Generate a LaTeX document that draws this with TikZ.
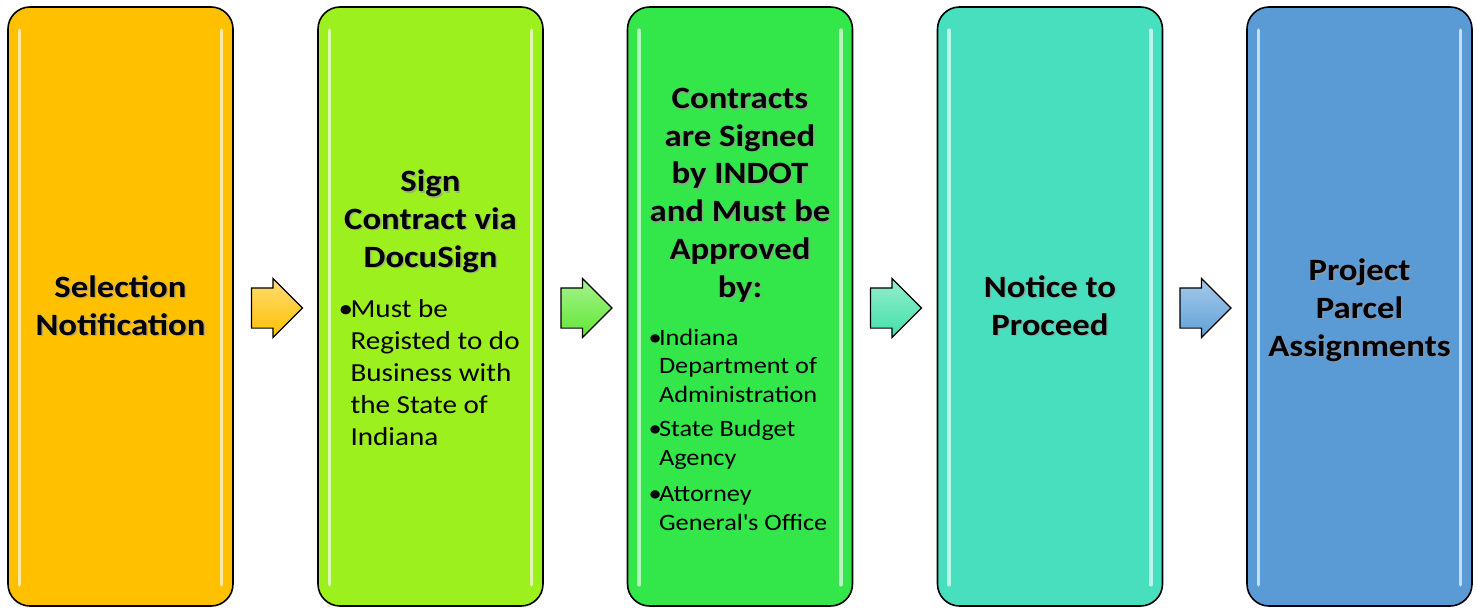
\documentclass[tikz,border=0pt]{standalone}
\usepackage{fontspec}
\setmainfont{Carlito}[FakeStretch=1.12]
\usetikzlibrary{shapes.arrows}

\definecolor{selcol}{HTML}{FFC000}
\definecolor{sgncol}{HTML}{9BF01E}
\definecolor{aprcol}{HTML}{33E64A}
\definecolor{ntpcol}{HTML}{48DFBF}
\definecolor{ppacol}{HTML}{5B9BD5}
\definecolor{arrcola}{HTML}{FFC000}
\definecolor{arrcolb}{HTML}{5FE832}
\definecolor{arrcolc}{HTML}{40E0A8}
\definecolor{arrcold}{HTML}{5FA0D8}

\tikzset{
  stepbox/.style={draw=black, line width=1.6pt, rounded corners=22pt,
    minimum width=225pt, minimum height=599pt, inner sep=0pt},
  steptitle/.style={font=\fontsize{31}{37.7}\selectfont\bfseries, align=center, anchor=base},
  titleshadow/.style={steptitle, text=black!40, opacity=0.7, xshift=1.5pt, yshift=-1.5pt},
  stepbody/.style={font=\fontsize{26}{32}\selectfont, align=left, anchor=base west},
  smallbody/.style={stepbody, font=\fontsize{23.5}{28.5}\selectfont},
  gloss/.style={line width=3.5pt, line cap=round},
  flowarrow/.style={single arrow, draw=black, line width=1.2pt, inner xsep=0pt,
    inner ysep=19.5pt, minimum height=51pt, single arrow head extend=9.5pt,
    single arrow head indent=0pt},
}

\begin{document}
\begin{tikzpicture}[x=1pt,y=-1pt]
  \useasboundingbox (0,0) rectangle (1477,608);

  % the five steps
  \node[stepbox,fill=selcol] (sel) at (120.5,306.5) {};
  \node[stepbox,fill=sgncol] (sgn) at (430.5,306.5) {};
  \node[stepbox,fill=aprcol] (apr) at (740,306.5) {};
  \node[stepbox,fill=ntpcol] (ntp) at (1050,306.5) {};
  \node[stepbox,fill=ppacol] (ppa) at (1359.5,306.5) {};

  % light edges
  \foreach \n/\c in {sel/selcol,sgn/sgncol,apr/aprcol,ntp/ntpcol,ppa/ppacol}{
    \draw[gloss,\c!35!white] ([xshift=12.5pt,yshift=-24pt]\n.north west) -- ([xshift=12.5pt,yshift=22pt]\n.south west);
    \draw[gloss,\c!35!white] ([xshift=-12.5pt,yshift=-24pt]\n.north east) -- ([xshift=-12.5pt,yshift=22pt]\n.south east);
  }

  % arrows between the steps
  \node[flowarrow,top color=arrcola!55!white,bottom color=arrcola] (a1) at (267,308) {};
  \node[flowarrow,top color=arrcolb!55!white,bottom color=arrcolb] (a2) at (576.5,308) {};
  \node[flowarrow,top color=arrcolc!55!white,bottom color=arrcolc] (a3) at (886,308) {};
  \node[flowarrow,top color=arrcold!55!white,bottom color=arrcold] (a4) at (1195.5,308) {};

  % title shadows
  \node[titleshadow] (selsh) at (120.5,335) {Selection\\Notification};
  \node[titleshadow] (sgnsh) at (430.5,267) {Sign\\Contract via\\DocuSign};
  \node[titleshadow] (aprsh) at (740,297) {Contracts\\are Signed\\by INDOT\\and Must be\\Approved\\by:};
  \node[titleshadow] (ntpsh) at (1050,335) {Notice to\\Proceed};
  \node[titleshadow] (ppash) at (1359.5,356) {Project\\Parcel\\Assignments};

  % texts
  \node[steptitle] (seltxt) at (120.5,335) {Selection\\Notification};
  \node[steptitle] (sgntxt) at (430.5,267) {Sign\\Contract via\\DocuSign};
  \node[stepbody] (sgnlst) at (335,445) {\makebox[12pt][l]{•}Must be\\
    \hspace*{12pt}Registed to do\\
    \hspace*{12pt}Business with\\
    \hspace*{12pt}the State of\\
    \hspace*{12pt}Indiana};
  \node[steptitle] (aprtxt) at (740,297) {Contracts\\are Signed\\by INDOT\\and Must be\\Approved\\by:};
  \node[smallbody] (aprl1) at (645,402) {\makebox[10.5pt][l]{•}Indiana\\
    \hspace*{10.5pt}Department of\\
    \hspace*{10.5pt}Administration};
  \node[smallbody] (aprl2) at (645,465) {\makebox[10.5pt][l]{•}State Budget\\
    \hspace*{10.5pt}Agency};
  \node[smallbody] (aprl3) at (645,530) {\makebox[10.5pt][l]{•}Attorney\\
    \hspace*{10.5pt}General\textquotesingle s Office};
  \node[steptitle] (ntptxt) at (1050,335) {Notice to\\Proceed};
  \node[steptitle] (ppatxt) at (1359.5,356) {Project\\Parcel\\Assignments};
\end{tikzpicture}
\end{document}
